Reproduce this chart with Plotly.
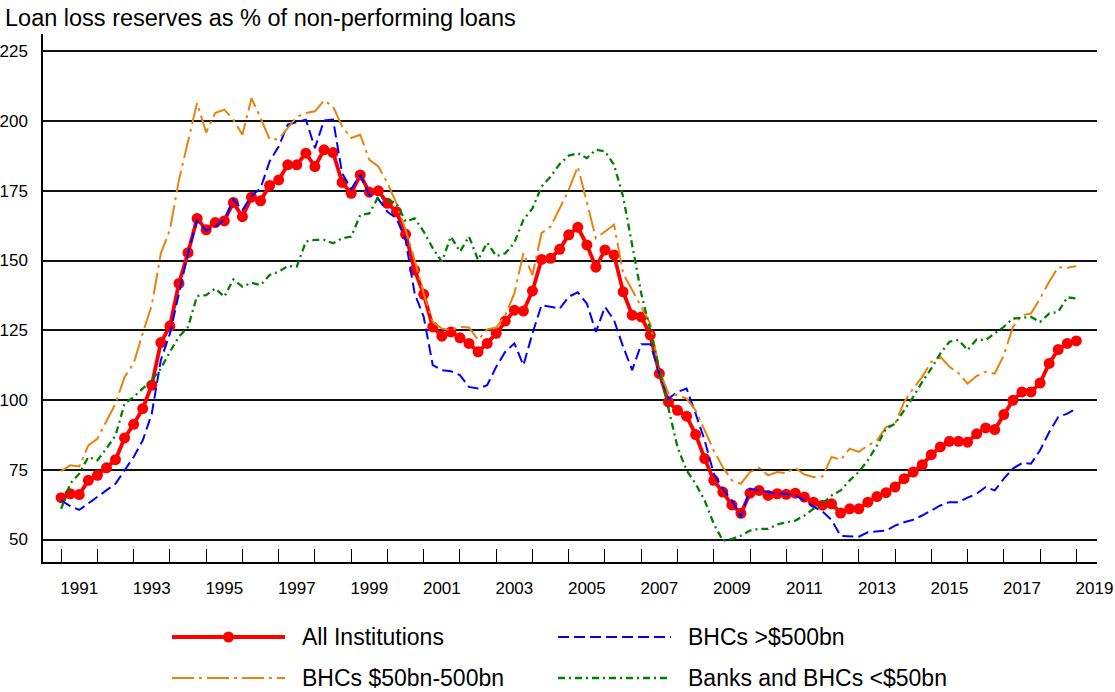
import pandas as pd
import plotly.graph_objects as go

# Quarterly observations, 1990Q3 through 2018Q3
quarters = pd.period_range("1990Q3", "2018Q3", freq="Q")
x_years = [q.year + (q.quarter - 1) / 4 for q in quarters]

all_institutions = [
    65.0, 66.4, 66.1, 71.2, 73.0, 75.7, 78.6, 86.4, 91.3, 96.9,
    105.3, 120.6, 126.5, 141.8, 152.8, 165.1, 161.0, 163.6, 164.2, 170.8,
    165.7, 172.7, 171.4, 176.9, 178.9, 184.3, 184.3, 188.5, 183.7, 189.7,
    188.7, 178.0, 174.1, 180.7, 174.5, 175.0, 170.5, 167.5, 159.4, 146.6,
    137.9, 126.2, 122.9, 124.4, 122.3, 120.3, 117.3, 120.3, 123.9, 128.3,
    132.2, 131.9, 139.1, 150.4, 150.8, 154.0, 159.2, 161.9, 155.6, 147.6,
    153.8, 152.0, 138.8, 130.4, 129.8, 123.3, 109.5, 99.3, 96.3, 94.2,
    87.6, 79.0, 71.2, 67.0, 62.4, 59.4, 66.6, 67.6, 65.8, 66.4,
    66.2, 66.6, 65.2, 63.4, 62.3, 62.8, 59.5, 61.0, 61.0, 63.4,
    65.4, 66.8, 68.8, 71.8, 74.2, 76.8, 80.4, 83.2, 85.2, 85.2,
    84.9, 87.9, 90.0, 89.4, 94.8, 99.9, 102.9, 102.9, 106.1, 113.1,
    118.1, 120.3, 121.2,
]

bhc_over_500 = [
    64.0, 62.0, 60.6, 62.9, 65.3, 67.6, 70.0, 74.8, 79.6, 85.5,
    95.1, 114.3, 123.8, 138.2, 152.6, 164.6, 160.7, 162.2, 164.6, 172.0,
    168.1, 173.2, 175.9, 185.5, 190.9, 198.7, 199.5, 200.5, 190.3, 200.2,
    200.5, 181.3, 175.6, 180.7, 173.5, 172.0, 167.5, 165.1, 157.4, 138.2,
    129.8, 112.5, 110.7, 110.3, 108.9, 104.7, 104.1, 105.3, 111.9, 117.3,
    120.3, 112.5, 123.9, 134.0, 133.4, 132.8, 137.0, 138.6, 134.6, 124.4,
    133.4, 128.6, 119.1, 110.7, 120.0, 120.0, 109.5, 100.5, 102.9, 104.1,
    95.1, 85.5, 73.6, 68.2, 64.0, 58.0, 68.2, 67.6, 66.8, 66.4,
    66.4, 65.8, 64.0, 61.8, 60.0, 57.0, 51.3, 51.1, 51.0, 52.6,
    53.0, 53.2, 55.0, 56.2, 57.1, 58.6, 60.4, 62.2, 63.4, 63.4,
    65.0, 66.4, 68.8, 67.6, 71.8, 75.4, 77.4, 77.2, 82.0, 88.5,
    93.9, 95.1, 96.9,
]

bhc_50_500 = [
    74.5, 76.6, 76.2, 83.7, 86.1, 92.7, 98.7, 108.3, 113.1, 123.9,
    134.0, 152.6, 161.0, 178.9, 193.3, 206.5, 195.9, 202.9, 204.1, 200.5,
    195.1, 208.2, 201.1, 193.5, 193.5, 197.5, 201.5, 202.9, 203.5, 207.4,
    205.2, 198.1, 193.9, 195.1, 186.1, 183.7, 177.7, 170.5, 161.0, 150.2,
    138.2, 128.0, 125.6, 125.0, 126.2, 126.0, 121.5, 125.3, 126.0, 130.4,
    138.2, 152.6, 144.8, 159.8, 162.2, 168.7, 175.3, 183.7, 170.5, 158.0,
    160.4, 162.8, 145.4, 139.4, 133.4, 127.4, 110.7, 102.3, 101.7, 100.5,
    96.3, 89.1, 81.9, 75.9, 71.2, 70.0, 74.2, 75.7, 73.0, 74.2,
    73.8, 75.7, 73.3, 72.4, 72.6, 79.6, 78.6, 82.6, 81.4, 83.7,
    85.5, 90.3, 91.5, 99.3, 104.1, 108.3, 113.7, 115.5, 111.9, 109.7,
    105.9, 108.6, 110.1, 109.5, 116.1, 126.2, 130.4, 131.0, 136.4, 142.4,
    147.6, 147.4, 148.0,
]

banks_under_50 = [
    61.0, 70.0, 73.6, 79.6, 78.4, 82.6, 87.3, 98.7, 101.1, 104.1,
    107.1, 111.3, 117.3, 122.7, 126.2, 137.3, 137.6, 140.0, 137.0, 143.2,
    140.6, 142.0, 141.2, 144.8, 146.0, 148.0, 147.8, 156.8, 157.4, 157.4,
    156.2, 158.0, 158.6, 166.3, 166.9, 172.9, 171.7, 170.5, 164.0, 165.1,
    160.4, 154.4, 149.6, 158.6, 153.2, 158.6, 150.2, 156.4, 151.6, 152.6,
    156.4, 164.6, 168.7, 176.5, 180.1, 184.6, 187.6, 188.5, 186.7, 189.7,
    189.1, 184.3, 172.9, 155.0, 138.2, 125.0, 111.3, 97.5, 83.1, 74.8,
    70.0, 64.0, 55.6, 49.6, 50.2, 51.4, 53.2, 53.8, 53.8, 55.4,
    56.2, 56.8, 58.6, 61.0, 62.8, 65.8, 67.6, 71.2, 74.2, 78.4,
    83.7, 89.7, 91.5, 96.3, 101.1, 106.5, 111.3, 116.7, 120.9, 121.5,
    117.9, 121.7, 121.5, 123.9, 126.2, 129.2, 129.6, 129.8, 128.0, 131.0,
    131.6, 136.8, 136.4,
]

year_labels = list(range(1991, 2020, 2))
y_ticks = [50, 75, 100, 125, 150, 175, 200, 225]

FONT = "Liberation Sans, Arial, sans-serif"
RED = "#ff0000"
BLUE = "#0000ff"
ORANGE = "#e8830c"
GREEN = "#008000"

series = [
    dict(name="All Institutions", y=all_institutions, color=RED, width=3.8,
         dash="solid", marker=True),
    dict(name="BHCs >$500bn", y=bhc_over_500, color=BLUE, width=2,
         dash="11px,5px", marker=False),
    dict(name="BHCs $50bn-500bn", y=bhc_50_500, color=ORANGE, width=2,
         dash="22px,5px,3px,5px", marker=False),
    dict(name="Banks and BHCs <$50bn", y=banks_under_50, color=GREEN, width=2.3,
         dash="7px,4px,2px,4px", marker=False),
]

fig = go.Figure()
for s in series:
    fig.add_trace(go.Scatter(
        x=x_years, y=s["y"], name=s["name"],
        mode="lines+markers" if s["marker"] else "lines",
        line=dict(color=s["color"], width=s["width"], dash=s["dash"]),
        marker=dict(size=11, color=s["color"]) if s["marker"] else None,
        hoverinfo="x+y+name",
    ))

# plot-area geometry in pixels, used to place the hand-built legend
W, H = 1115, 692
L, R, T, B = 43, 18, 34, 130
pw, ph = W - L - R, H - T - B


def px_x(px):
    return (px - L) / pw


def px_y(py):
    return (H - B - py) / ph


legend_rows = [
    (series[0], 172, 637), (series[1], 558, 637),
    (series[2], 172, 678), (series[3], 558, 678),
]
shapes = []
annotations = []
for s, x0, yc in legend_rows:
    shapes.append(dict(
        type="line", xref="paper", yref="paper",
        x0=px_x(x0), x1=px_x(x0 + 113), y0=px_y(yc), y1=px_y(yc),
        line=dict(color=s["color"], width=s["width"], dash=s["dash"]),
    ))
    if s["marker"]:
        cx, r = x0 + 56.5, 5.5
        shapes.append(dict(
            type="circle", xref="paper", yref="paper",
            x0=px_x(cx - r), x1=px_x(cx + r), y0=px_y(yc + r), y1=px_y(yc - r),
            fillcolor=s["color"], line=dict(color=s["color"], width=0),
        ))
    annotations.append(dict(
        text=s["name"].replace("<", "&lt;").replace(">", "&gt;"),
        xref="paper", yref="paper", x=px_x(x0 + 128), y=px_y(yc),
        xanchor="left", yanchor="middle", showarrow=False,
        font=dict(family=FONT, size=23, color="black"),
    ))

fig.update_layout(
    width=W, height=H,
    margin=dict(l=L, r=R, t=T, b=B, pad=0, autoexpand=False),
    paper_bgcolor="white", plot_bgcolor="white",
    showlegend=False,
    font=dict(family=FONT, size=17, color="black"),
    title=dict(
        text="Loan loss reserves as % of non-performing loans",
        font=dict(family=FONT, size=23.5, color="black"),
        xref="container", yref="container",
        x=5 / W, xanchor="left", y=1 - 18 / H, yanchor="middle",
        automargin=False,
    ),
    xaxis=dict(
        range=[1990, 2019.07],
        automargin=False,
        tickmode="array", tickvals=year_labels,
        ticktext=[str(v) for v in year_labels],
        ticks="", showgrid=False, zeroline=False,
        showline=True, linecolor="black", linewidth=1.5,
        ticklabelstandoff=10,
        minor=dict(
            tickmode="array",
            tickvals=[yr + 0.5 for yr in range(1990, 2019)],
            ticks="inside", ticklen=13, tickwidth=1.3, tickcolor="black",
            showgrid=False,
        ),
    ),
    yaxis=dict(
        range=[41.94, 231.2],
        automargin=False,
        tickmode="array", tickvals=y_ticks,
        ticks="", showgrid=True, gridcolor="#111111", gridwidth=1.5,
        zeroline=False, showline=True, linecolor="black", linewidth=1.5,
        ticklabelstandoff=10,
    ),
    shapes=shapes,
    annotations=annotations,
)

fig.write_html("out.html")
